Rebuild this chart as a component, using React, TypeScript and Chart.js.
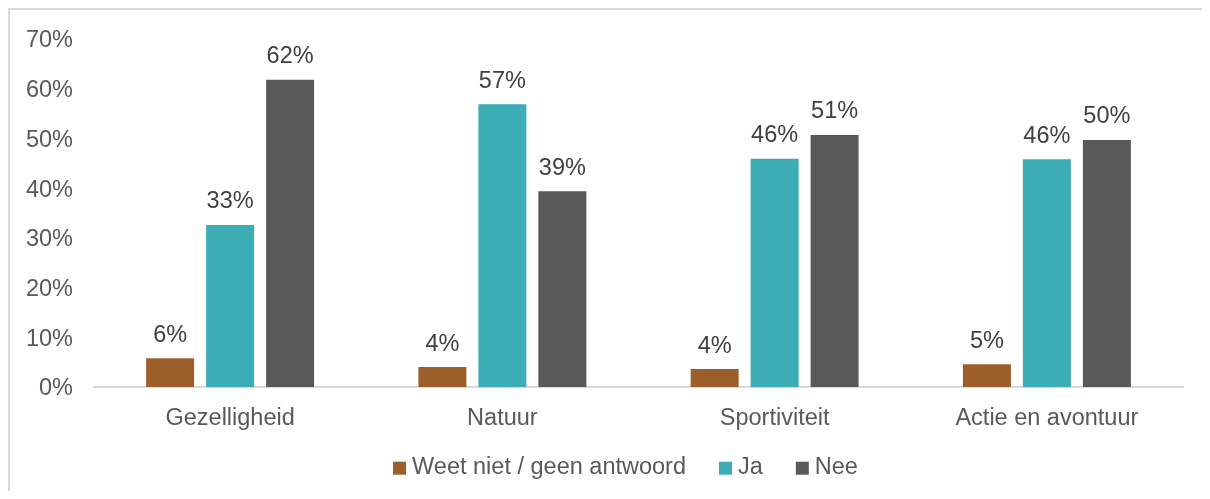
import React, { useEffect, useRef } from "react";
import { Chart, registerables } from "chart.js";

Chart.register(...registerables);

const categories = ["Gezelligheid", "Natuur", "Sportiviteit", "Actie en avontuur"];
const seriesNames = ["Weet niet / geen antwoord", "Ja", "Nee"];
const weetNiet = [5.8, 4.0, 3.6, 4.6];
const ja = [32.6, 56.9, 45.9, 45.8];
const nee = [61.8, 39.4, 50.7, 49.7];
const seriesColors = ["#9C5F2B", "#3CADB4", "#595959"];
const yTicks = [0, 10, 20, 30, 40, 50, 60, 70];

const FONT = "'Liberation Sans', Arial, sans-serif";
const FONT_SIZE = 23.5;

const dataLabelPlugin = {
  id: "dataLabels",
  afterDatasetsDraw(chart: any) {
    const ctx = chart.ctx;
    ctx.save();
    ctx.font = `${FONT_SIZE}px ${FONT}`;
    ctx.fillStyle = "#404040";
    ctx.textAlign = "center";
    ctx.textBaseline = "alphabetic";
    chart.data.datasets.forEach((ds: any, di: number) => {
      const meta = chart.getDatasetMeta(di);
      meta.data.forEach((bar: any, i: number) => {
        const v = ds.data[i];
        ctx.fillText(`${Math.round(v)}%`, bar.x, bar.y - 16.5);
      });
    });
    ctx.restore();
  },
};

const legendPlugin = {
  id: "customLegend",
  afterDraw(chart: any) {
    const ctx = chart.ctx;
    const box = 13;
    const textGap = 6;
    const itemGap = 33;
    const centerX = 615.5;
    const baseline = 464;
    const boxTop = 451.7;
    ctx.save();
    ctx.font = `${FONT_SIZE}px ${FONT}`;
    const items = chart.data.datasets.map((ds: any) => ({
      label: ds.label,
      color: ds.backgroundColor,
      w: ctx.measureText(ds.label).width,
    }));
    const total =
      items.reduce((s: number, it: any) => s + box + textGap + it.w, 0) +
      itemGap * (items.length - 1);
    let x = centerX - total / 2;
    ctx.textBaseline = "alphabetic";
    ctx.textAlign = "left";
    items.forEach((it: any) => {
      ctx.fillStyle = it.color;
      ctx.fillRect(x, boxTop, box, box);
      x += box + textGap;
      ctx.fillStyle = "#595959";
      ctx.fillText(it.label, x, baseline);
      x += it.w + itemGap;
    });
    ctx.restore();
  },
};

export default function App() {
  const ref = useRef<HTMLCanvasElement | null>(null);
  useEffect(() => {
    if (!ref.current) return;
    const chart = new Chart(ref.current, {
      type: "bar",
      data: {
        labels: categories,
        datasets: [weetNiet, ja, nee].map((d, i) => ({
          label: seriesNames[i],
          data: d,
          backgroundColor: seriesColors[i],
          borderWidth: 0,
          categoryPercentage: 0.661,
          barPercentage: 0.8,
        })),
      },
      options: {
        animation: false,
        responsive: true,
        maintainAspectRatio: false,
        layout: { padding: { left: 0, right: 27, top: 29, bottom: 59 } },
        plugins: {
          tooltip: { enabled: false },
          legend: { display: false },
        },
        scales: {
          x: {
            grid: { display: false, drawTicks: false },
            border: { color: "#D9D9D9", width: 2 },
            afterFit: (axis: any) => {
              axis.height = 45;
              axis.paddingLeft = 0;
              axis.paddingRight = 0;
            },
            ticks: {
              color: "#595959",
              font: { family: FONT, size: FONT_SIZE },
              padding: 17,
            },
          },
          y: {
            min: 0,
            max: 70,
            grid: { display: false, drawTicks: false },
            border: { display: false },
            afterBuildTicks: (axis: any) => {
              axis.ticks = yTicks.map((v) => ({ value: v }));
            },
            afterFit: (axis: any) => {
              axis.width = 84;
              axis.paddingTop = 0;
              axis.paddingBottom = 0;
            },
            ticks: {
              color: "#595959",
              font: { family: FONT, size: FONT_SIZE },
              padding: 21,
              labelOffset: 2,
              callback: (v: any) => `${v}%`,
            },
          },
        },
      },
      plugins: [dataLabelPlugin, legendPlugin],
    });
    return () => chart.destroy();
  }, []);

  return (
    <div
      style={{
        width: 1202,
        height: 483,
        boxSizing: "border-box",
        borderTop: "2px solid #D9D9D9",
        borderLeft: "2px solid #D9D9D9",
        position: "relative",
      }}
    >
      <canvas ref={ref} />
    </div>
  );
}
